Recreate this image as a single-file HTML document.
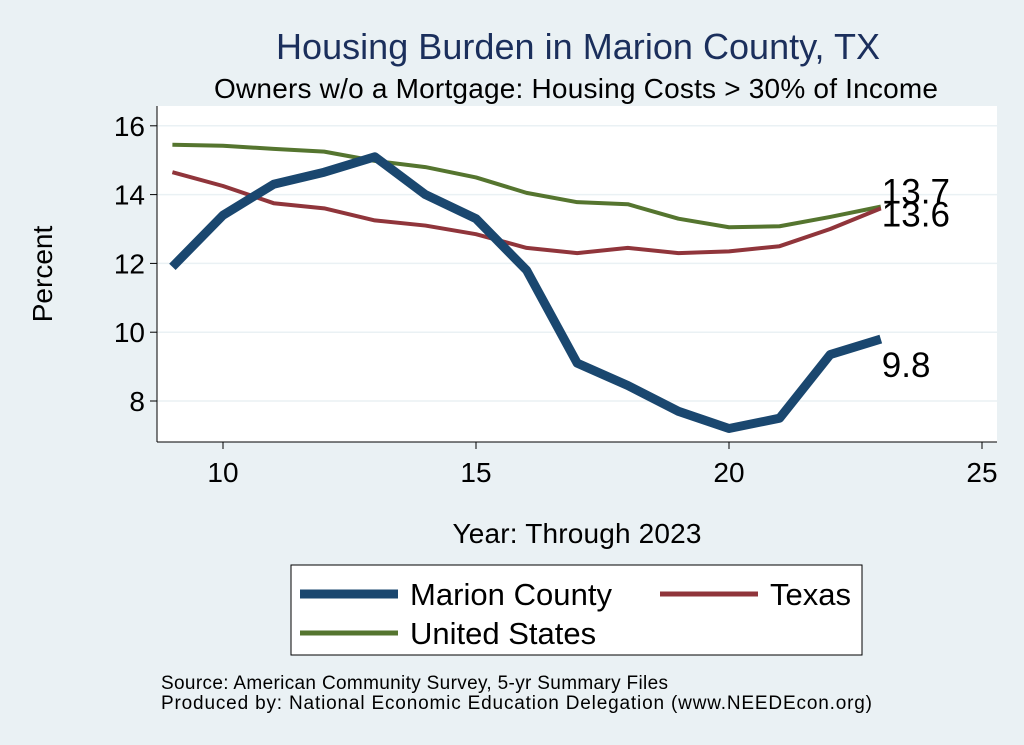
<!DOCTYPE html>
<html><head><meta charset="utf-8"><style>
body{margin:0;background:#eaf1f4;}
svg{display:block;font-family:"Liberation Sans",sans-serif;}
</style></head><body>
<svg id="c" width="1024" height="745" viewBox="0 0 1024 745">
<rect width="1024" height="745" fill="#eaf1f4"/>
<text x="578" y="59" font-size="36" fill="#1b2f5c" text-anchor="middle" textLength="604">Housing Burden in Marion County, TX</text>
<text x="576" y="98" font-size="28" fill="#000" text-anchor="middle" textLength="724">Owners w/o a Mortgage: Housing Costs &gt; 30% of Income</text>
<rect x="157" y="106" width="840" height="336" fill="#fff"/>
<g id="grid"></g>
<line x1="157" y1="106" x2="157" y2="442" stroke="#000"/>
<line x1="157" y1="442" x2="997" y2="442" stroke="#000"/>
<g id="ticks"></g>
<g id="series"></g>
<text x="52" y="274" font-size="28" text-anchor="middle" transform="rotate(-90 52 274)">Percent</text>
<text x="577" y="543" font-size="28" text-anchor="middle" textLength="249">Year: Through 2023</text>
<g>
<rect x="291" y="565" width="571" height="90" fill="#fff" stroke="#000"/>
<line x1="300" y1="594" x2="398" y2="594" stroke="#1a476f" stroke-width="9"/>
<text x="410" y="605" font-size="31" textLength="202">Marion County</text>
<line x1="660" y1="594" x2="758" y2="594" stroke="#90353b" stroke-width="5"/>
<text x="770" y="605" font-size="31">Texas</text>
<line x1="300" y1="633" x2="398" y2="633" stroke="#55752f" stroke-width="5"/>
<text x="410" y="644" font-size="31">United States</text>
</g>
<text x="161" y="689" font-size="19" textLength="507">Source: American Community Survey, 5-yr Summary Files</text>
<text x="161" y="709" font-size="19" textLength="711">Produced by: National Economic Education Delegation (www.NEEDEcon.org)</text>
</svg>
<script>
const years=[9,10,11,12,13,14,15,16,17,18,19,20,21,22,23];
const marion=[11.9,13.4,14.3,14.65,15.1,14.0,13.3,11.8,9.1,8.45,7.7,7.2,7.5,9.35,9.8];
const texas=[14.65,14.25,13.75,13.6,13.25,13.1,12.85,12.45,12.3,12.45,12.3,12.35,12.5,13.0,13.6];
const us=[15.45,15.42,15.33,15.25,14.98,14.8,14.5,14.05,13.78,13.72,13.3,13.05,13.08,13.35,13.65];
const xTicks=[10,15,20,25];
const yTicks=[8,10,12,14,16];
const NS="http://www.w3.org/2000/svg";
function X(v){return 223+(v-10)*50.6;}
function Y(v){return 401-(v-8)*34.4;}
function mk(t,a,p){const e=document.createElementNS(NS,t);for(const k in a)e.setAttribute(k,a[k]);p.appendChild(e);return e;}
const grid=document.getElementById('grid'),ticks=document.getElementById('ticks'),ser=document.getElementById('series');
yTicks.forEach(v=>{
 const g=mk('line',{x1:157,x2:997,y1:Y(v),y2:Y(v),stroke:'#eaf1f4','stroke-width':1.5},grid);
 
 
 const t=mk('line',{x1:150,x2:157,y1:Y(v),y2:Y(v),stroke:'#000'},ticks);
 
 
 const l=mk('text',{x:145,y:Y(v)+10,'font-size':28,'text-anchor':'end'},ticks);l.textContent=v;
 
 
});
xTicks.forEach(v=>{
 const t=mk('line',{x1:X(v),x2:X(v),y1:442,y2:449,stroke:'#000'},ticks);
 
 
 const l=mk('text',{x:X(v),y:482,'font-size':28,'text-anchor':'middle'},ticks);l.textContent=v;
 
 
});
function line(vals,col,w,name){
 const p=mk('polyline',{points:vals.map((v,i)=>X(years[i])+','+Y(v)).join(' '),fill:'none',stroke:col,'stroke-width':w,'stroke-linejoin':'round'},ser);
 
 
}
line(us,'#55752f',4,'line-united-states');
line(texas,'#90353b',4,'line-texas');
line(marion,'#1a476f',9,'line-marion-county');
function lab(vals,name,dy){
 const v=vals[vals.length-1];
 const t=mk('text',{x:X(years[years.length-1])+1,y:Y(v)+dy,'font-size':35},ser);t.textContent=v.toFixed(1);
 
 
}
lab(us,'label-us-last',-3);
lab(texas,'label-texas-last',18);
lab(marion,'label-marion-last',38);
</script>
</body></html>
